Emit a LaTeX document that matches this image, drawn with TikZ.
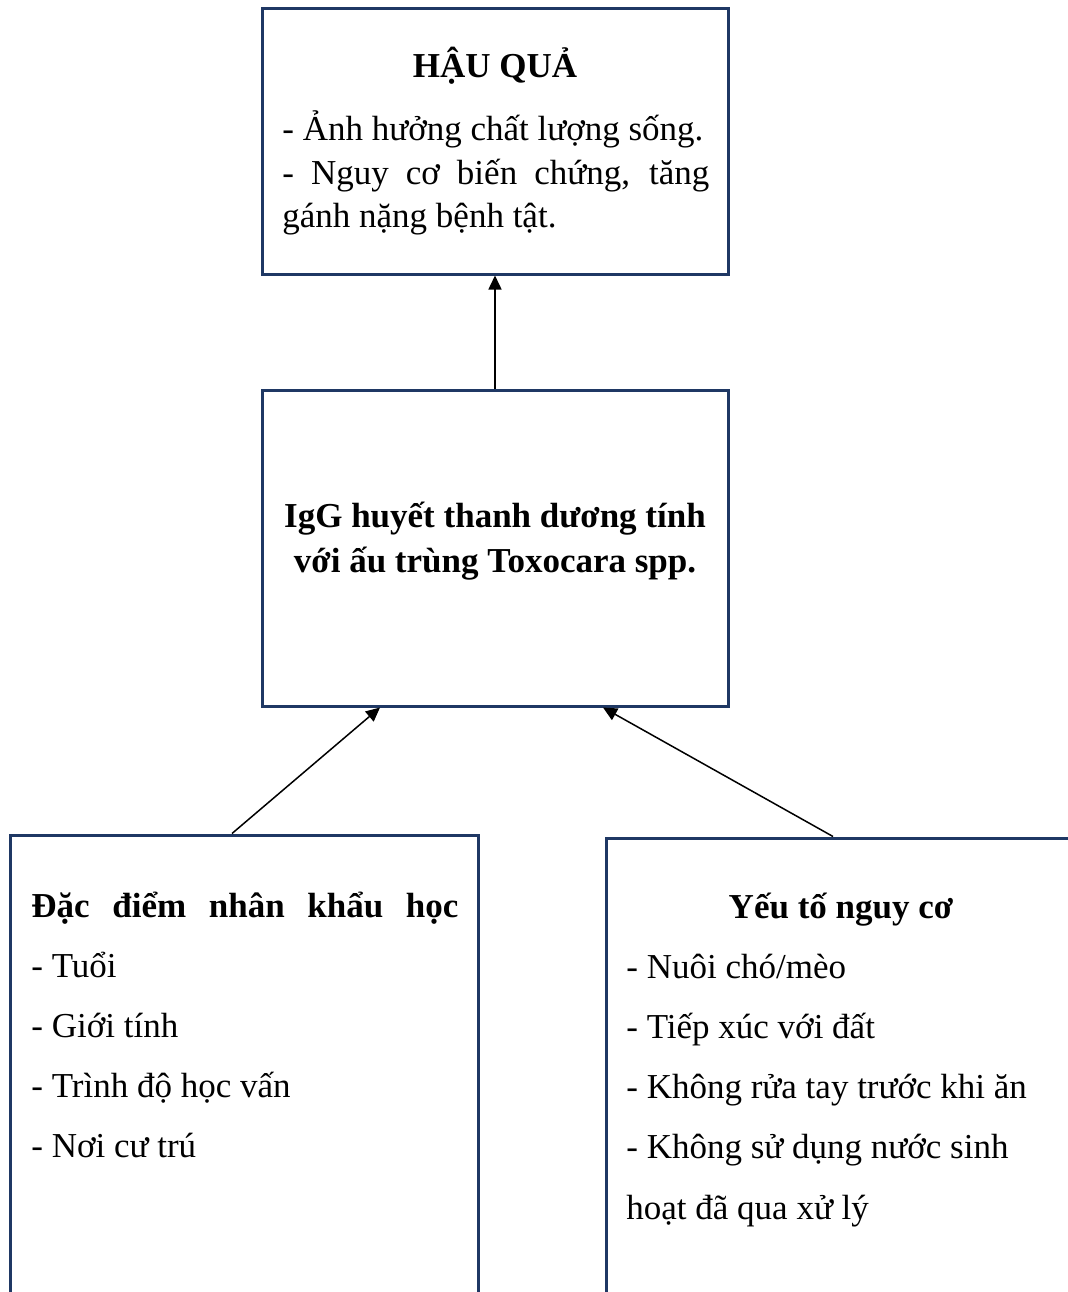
\documentclass[tikz,border=0pt]{standalone}
\usepackage{fontspec}
\setmainfont{Liberation Serif}
\usepackage{xcolor}
\usetikzlibrary{positioning, arrows.meta}
\definecolor{boxblue}{HTML}{1F3864}

\begin{document}
\begin{tikzpicture}[
    x=0.5pt, y=-0.5pt,
    box/.style={draw=boxblue, line width=1.5pt, rectangle, inner sep=0pt},
    txt/.style={anchor=base west, inner sep=0pt, font=\fontsize{17.5}{21}\selectfont},
    ttl/.style={anchor=base, inner sep=0pt, font=\fontsize{17.5}{21}\selectfont\bfseries},
    link/.style={->, line width=0.75pt, black},
    >={Triangle[length=7pt, width=6.5pt]}
    ]
    \useasboundingbox (0,0) rectangle (1067,1292);

    % boxes
    \node[box, minimum width=233pt, minimum height=133pt] (hq) at (495, 141) {};
    \node[box, minimum width=233pt, minimum height=158pt] (igg) at (495, 548) {};
    \node[box, minimum width=234pt, minimum height=252pt] (nk) at (244, 1087) {};
    \node[box, minimum width=252pt, minimum height=251pt] (yt) at (858, 1089) {};

    % top box text
    \node[ttl] (hqt) at (495, 77) {HẬU QUẢ};
    \node[txt] (hq1) at (282, 140) {- Ảnh hưởng chất lượng sống.};
    \node[txt] (hq2) at (282, 184) {\makebox[213.5pt][s]{- Nguy cơ biến chứng, tăng}};
    \node[txt] (hq3) at (282, 227) {gánh nặng bệnh tật.};

    % middle box text
    \node[ttl] (igg1) at (495, 527) {IgG huyết thanh dương tính};
    \node[ttl] (igg2) at (495, 572) {với ấu trùng Toxocara spp.};

    % left box text
    \node[txt, font=\fontsize{17.5}{21}\selectfont\bfseries] (nkt) at (31, 917) {\makebox[213.5pt][s]{Đặc điểm nhân khẩu học}};
    \foreach \t [count=\i from 0] in {- Tuổi, - Giới tính, - Trình độ học vấn, - Nơi cư trú}
        \node[txt] (nk\i) at (31, 977+60*\i) {\t};

    % right box text
    \node[ttl] (ytt) at (841, 918) {Yếu tố nguy cơ};
    \foreach \t [count=\i from 0] in {- Nuôi chó/mèo, - Tiếp xúc với đất, - Không rửa tay trước khi ăn, - Không sử dụng nước sinh, hoạt đã qua xử lý}
        \node[txt] (yt\i) at (626, 978+60.3*\i) {\t};

    % arrows
    \draw[link] (igg.north) -- (hq.south);
    \draw[link] ([xshift=-6pt]nk.north) -- ([xshift=-57.5pt]igg.south);
    \draw[link] ([xshift=-12.5pt]yt.north) -- ([xshift=54pt]igg.south);
\end{tikzpicture}
\end{document}
